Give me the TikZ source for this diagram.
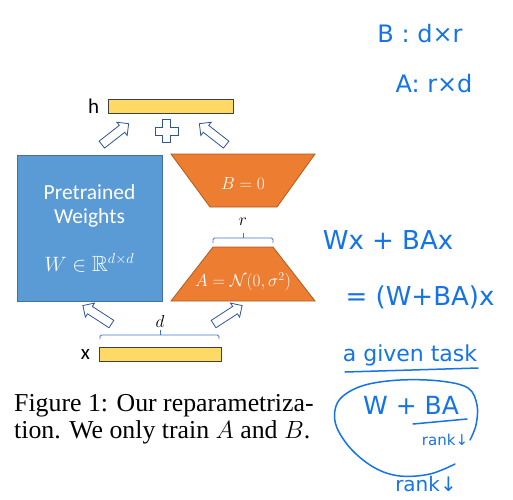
\documentclass[tikz,border=0pt]{standalone}
\usepackage{fontspec}
\usepackage{amssymb}
\setmainfont{Liberation Serif}
\newfontfamily\calibri{Carlito}
\newfontfamily\hand{DejaVu Sans}
\usetikzlibrary{positioning,shapes.arrows}
\definecolor{wblue}{HTML}{5B9BD5}
\definecolor{wedge}{HTML}{41719C}
\definecolor{loworange}{HTML}{ED7D31}
\definecolor{lowedge}{HTML}{AE5A21}
\definecolor{vecyellow}{HTML}{FFD966}
\definecolor{arrblue}{HTML}{2F5597}
\definecolor{braceblue}{HTML}{4472C4}
\definecolor{penblue}{HTML}{1473E6}

\begin{document}
\begin{tikzpicture}[x=1pt, y=-1pt,
    bar/.style={draw=black!75, fill=vecyellow, line width=0.8pt, minimum height=14pt, inner sep=0pt},
    lowrank/.style={draw=lowedge, fill=loworange, line width=0.8pt},
    flow/.style={single arrow, draw=arrblue, fill=white, line width=0.8pt, minimum height=34pt, single arrow head extend=4pt, inner sep=4pt},
    dimbrace/.style={draw=braceblue, line width=0.9pt, rounded corners=1.5pt},
    note/.style={text=penblue, font=\hand\fontsize{26}{28}\selectfont},
    pen/.style={draw=penblue, line width=1.5pt, line cap=round}]
    \useasboundingbox (0,0) rectangle (513,499);

    % vectors
    \node[bar, minimum width=125pt] (hbar) at (170.5,106) {};
    \node[left=5pt of hbar, font=\calibri\fontsize{21}{24}\selectfont] (hlabel) {h};
    \node[bar, minimum width=122pt] (xbar) at (160,354) {};
    \node[left=5pt of xbar, font=\calibri\fontsize{21}{24}\selectfont] (xlabel) {x};

    % pretrained weights
    \node[draw=wedge, fill=wblue, line width=0.8pt, minimum width=145pt, minimum height=146pt] (wbox) at (89.5,228) {};
    \node[text=white, font=\calibri\fontsize{21.5}{24}\selectfont] (wname) at (89.5,192) {Pretrained};
    \node[text=white, font=\calibri\fontsize{21.5}{24}\selectfont] (wname2) at (89.5,218) {Weights};
    \node[text=white, font=\fontsize{22}{26}\selectfont] (wdim) at (89.5,263) {$W\in\mathbb{R}^{d\times d}$};

    % low-rank matrices
    \draw[lowrank] (171,154) -- (315,154) -- (277,207) -- (210,207) -- cycle;
    \node[text=white, font=\fontsize{18}{22}\selectfont] (bval) at (243,184) {$B=0$};
    \draw[lowrank] (213,247) -- (273,247) -- (315,301) -- (171,301) -- cycle;
    \node[text=white, font=\fontsize{18.5}{22}\selectfont] (aval) at (243,282) {$A=\mathcal{N}(0,\sigma^2)$};

    % dimensions
    \draw[dimbrace] (213,243) -- (213,238) -- (273,238) -- (273,243);
    \draw[dimbrace] (243,238) -- (243,233);
    \node[font=\fontsize{18}{22}\selectfont] (rlabel) at (243,222) {$r$};
    \draw[dimbrace] (100,339) -- (100,335) -- (219,335) -- (219,339);
    \draw[dimbrace] (160,335) -- (160,330);
    \node[font=\fontsize{18}{22}\selectfont] (dlabel) at (160,321) {$d$};

    % flow arrows
    \node[flow, rotate=38] (a1) at (113.5,135.5) {};
    \node[flow, rotate=142] (a2) at (214.5,135.5) {};
    \node[flow, rotate=147] (a3) at (99,316) {};
    \node[flow, rotate=33] (a4) at (226,316) {};
    \coordinate (plus) at (166.5,131);
    \draw[arrblue, fill=white, line width=0.8pt] (plus) ++(-4,-11.5) -- ++(8,0) -- ++(0,7.5) -- ++(7.5,0) -- ++(0,8) -- ++(-7.5,0) -- ++(0,7.5) -- ++(-8,0) -- ++(0,-7.5) -- ++(-7.5,0) -- ++(0,-8) -- ++(7.5,0) -- cycle;

    % caption
    \node[anchor=base west, inner sep=0pt, font=\fontsize{25.8}{28}\selectfont] (cap1) at (14,411) {Figure 1: Our reparametriza-};
    \node[anchor=base west, inner sep=0pt, font=\fontsize{25.8}{28}\selectfont] (cap2) at (14,438) {tion. We only train $A$ and $B$.};

    % handwritten notes
    \node[note, font=\hand\fontsize{24}{26}\selectfont] (nb) at (420,34) {B : d×r};
    \node[note, font=\hand\fontsize{24}{26}\selectfont] (na) at (434,84) {A: r×d};
    \node[note] (n1) at (388,240) {Wx + BAx};
    \node[note] (n2) at (420,297) {= (W+BA)x};
    \node[note, font=\hand\fontsize{22}{24}\selectfont] (n3) at (410,355) {a given task};
    \draw[pen] (345,372) -- (478,368);
    \node[note, font=\hand\fontsize{25}{27}\selectfont] (n4) at (411,405) {W + BA};
    \draw[pen] (413,424) -- (467,419);
    \node[note, font=\hand\fontsize{15}{18}\selectfont] (n5) at (445,440) {rank↓};
    \draw[pen] plot[smooth, tension=0.6] coordinates {(455,464) (430,474) (400,476) (375,468) (352,450) (337,428) (335,410) (343,396) (365,385) (400,380) (440,381) (468,388) (477,405) (476,425) (470,440)};
    \node[note, font=\hand\fontsize{20}{22}\selectfont] (n6) at (426,484) {rank↓};
\end{tikzpicture}
\end{document}
